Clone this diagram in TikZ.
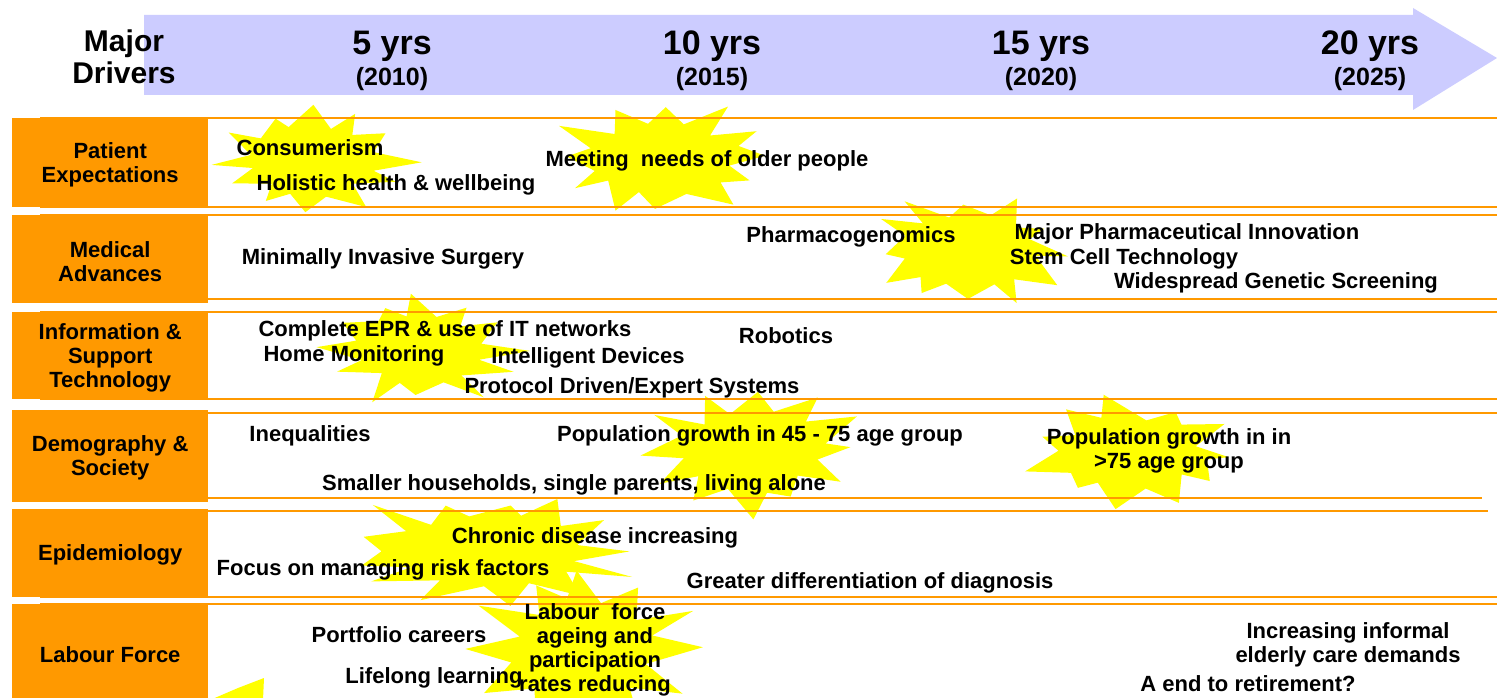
\documentclass[tikz,border=0pt]{standalone}
\usepackage{fontspec}
\setmainfont{Liberation Sans}
\definecolor{rowOrange}{HTML}{FF9900}
\definecolor{starYellow}{HTML}{FFFF00}
\definecolor{bandBlue}{HTML}{CCCCFF}

% irregular starburst: centre x, centre y, x radius, y radius, spikes, seed
\newcommand\burst[6]{%
  \pgfmathsetseed{#6}%
  \pgfmathtruncatemacro\burstlast{2*#5-1}%
  \foreach \k in {0,...,\burstlast}{%
    \pgfmathsetmacro\burstang{\k*180/#5+(rnd-0.5)*14}%
    \pgfmathsetmacro\burstrad{ifthenelse(mod(\k,2)==0,0.78+0.28*rnd,0.55+0.12*rnd)}%
    \coordinate (bp\k) at ({#1+#3*\burstrad*cos(\burstang)},{#2+#4*\burstrad*sin(\burstang)});
  }%
  \fill[burstfill] (bp0) \foreach \k in {1,...,\burstlast}{ -- (bp\k)} -- cycle;
}

\begin{document}
\begin{tikzpicture}[x=1pt,y=-1pt,
  burstfill/.style={fill=starYellow},
  rowline/.style={draw=rowOrange,line width=1.2pt},
  labelbox/.style={fill=rowOrange,minimum width=196pt,anchor=north west,inner sep=0pt},
  lbl/.style={font=\fontsize{22}{24}\selectfont\bfseries,align=center,inner sep=0pt,yshift=-2pt},
  item/.style={font=\fontsize{22}{24}\selectfont\bfseries,align=center,inner sep=0pt},
  drivers/.style={font=\fontsize{30}{32}\selectfont\bfseries,align=center,inner sep=0pt},
  yearbig/.style={font=\fontsize{34}{36}\selectfont\bfseries,inner sep=0pt},
  yearsmall/.style={font=\fontsize{25}{27}\selectfont\bfseries,inner sep=0pt},
]
\useasboundingbox (0,0) rectangle (1497,698);
\clip (0,0) rectangle (1497,698);
\fill[white] (0,0) rectangle (1497,698);

% timeline band
\fill[bandBlue] (144,15) -- (1413,15) -- (1413,8) -- (1497,58) -- (1413,110)
  -- (1413,95) -- (144,95) -- cycle;

% starbursts
\burst{311}{160}{106}{57}{12}{11}
\burst{664}{158}{118}{58}{12}{22}
\burst{970}{250}{104}{58}{12}{33}
\burst{420}{349}{106}{57}{12}{44}
\burst{752}{450}{116}{66}{12}{55}
\burst{1134}{452}{114}{57}{11}{66}
\burst{485}{550}{156}{58}{13}{77}
\burst{583}{652}{118}{82}{12}{88}
\fill[burstfill] (210,700) -- (238,688) -- (264,678) -- (263,700) -- cycle;

% row rules
\foreach \yy in {118,207,215,299,312,399,413,597,604}
  \draw[rowline] (40,\yy) -- (1500,\yy);
\draw[rowline] (40,498) -- (1482,498);
\draw[rowline] (40,511) -- (1488,511);

% driver boxes
\node[labelbox,minimum height=89pt] (r1) at (12,118) {};
\node[labelbox,minimum height=88pt] (r2) at (12,215) {};
\node[labelbox,minimum height=87pt] (r3) at (12,312) {};
\node[labelbox,minimum height=92pt] (r4) at (12,410) {};
\node[labelbox,minimum height=88pt] (r5) at (12,509) {};
\node[labelbox,minimum height=100pt] (r6) at (12,604) {};
\node[lbl] (l1) at (r1.center) {Patient\\Expectations};
\node[lbl] (l2) at (r2.center) {Medical\\Advances};
\node[lbl] (l3) at (r3.center) {Information \&\\Support\\Technology};
\node[lbl] (l4) at (r4.center) {Demography \&\\Society};
\node[lbl] (l5) at (r5.center) {Epidemiology};
\node[lbl] (l6) at ([yshift=2pt]r6.center) {Labour Force};

% header
\node[drivers] (hd) at (124,57) {Major\\Drivers};
\node[yearbig] (y5) at (392,46) {5 yrs};
\node[yearsmall] (d5) at (392,79) {(2010)};
\node[yearbig] (y10) at (712,46) {10 yrs};
\node[yearsmall] (d10) at (712,79) {(2015)};
\node[yearbig] (y15) at (1041,46) {15 yrs};
\node[yearsmall] (d15) at (1041,79) {(2020)};
\node[yearbig] (y20) at (1370,46) {20 yrs};
\node[yearsmall] (d20) at (1370,79) {(2025)};

% patient expectations
\node[item] (t1) at (310,148) {Consumerism};
\node[item] (t2) at (396,185) {Holistic health \& wellbeing};
\node[item] (t3) at (707,161) {Meeting\ \ needs of older people};
% medical advances
\node[item] (t4) at (383,259) {Minimally Invasive Surgery};
\node[item] (t5) at (851,237) {Pharmacogenomics};
\node[item] (t6) at (1187,234) {Major Pharmaceutical Innovation};
\node[item] (t7) at (1124,259) {Stem Cell Technology};
\node[item] (t8) at (1276,283) {Widespread Genetic Screening};
% information & support technology
\node[item] (t9) at (445,331) {Complete EPR \& use of IT networks};
\node[item] (t10) at (354,356) {Home Monitoring};
\node[item] (t11) at (588,358) {Intelligent Devices};
\node[item] (t12) at (786,336) {Robotics};
\node[item] (t13) at (632,388) {Protocol Driven/Expert Systems};
% demography & society
\node[item] (t14) at (310,436) {Inequalities};
\node[item] (t15) at (760,436) {Population growth in 45 - 75 age group};
\node[item] (t16) at (1169,451) {Population growth in in\\>75 age group};
\node[item] (t17) at (574,485) {Smaller households, single parents, living alone};
% epidemiology
\node[item] (t18) at (595,538) {Chronic disease increasing};
\node[item] (t19) at (383,570) {Focus on managing risk factors};
\node[item] (t20) at (870,583) {Greater differentiation of diagnosis};
% labour force
\node[item] (t21) at (399,635) {Portfolio careers};
\node[item] (t22) at (434,678) {Lifelong learning};
\node[item] (t23) at (595,650) {Labour\ \ force\\ageing and\\participation\\rates reducing};
\node[item] (t24) at (1348,645) {Increasing informal\\elderly care demands};
\node[item] (t25) at (1248,684) {A end to retirement?};
\end{tikzpicture}
\end{document}
